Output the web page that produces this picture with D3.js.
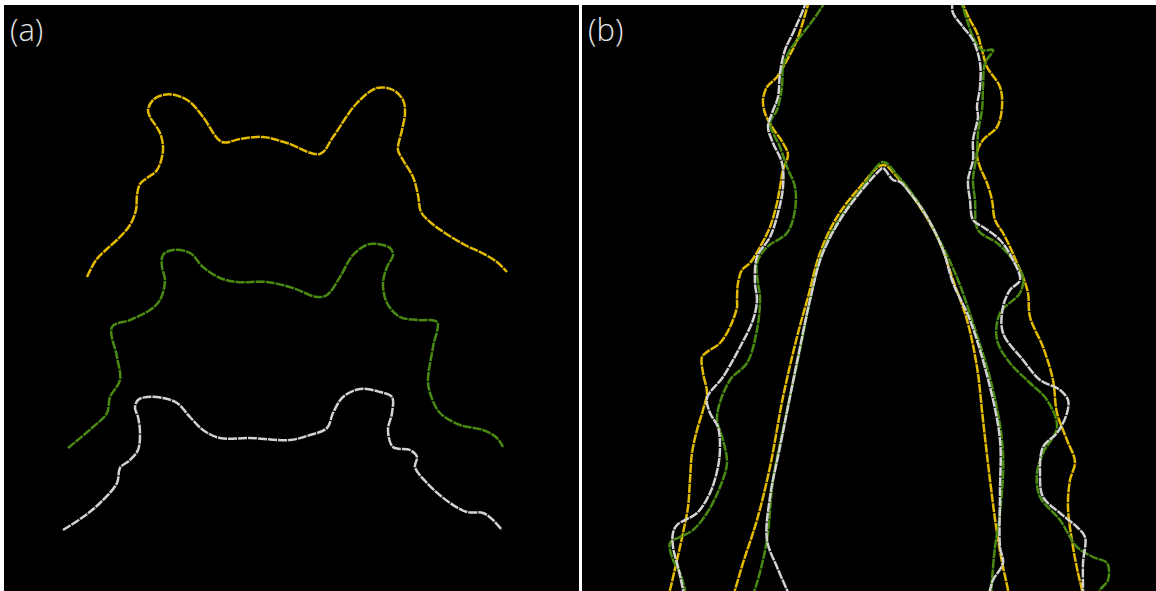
<!DOCTYPE html>
<html>
<head>
<meta charset="utf-8">
<script src="https://cdn.jsdelivr.net/npm/d3@7"></script>
<style>
  html, body { margin: 0; padding: 0; background: #fff; }
  svg { display: block; }
</style>
</head>
<body>
<div id="chart"></div>
<script>
// panel labels
var panelLabels = ["(a)", "(b)"];

// contour traces, panel-local units (x across, y down)
var aYellow = [[83,272],[92,255],[104,243],[115,233],[126,220],[132,205],[133,190],[136,179],[143,173],[153,165],[159,145],[156,128],[146,112],[144,105],[149,95],[159,90],[171,90],[186,97],[199,112],[218,137],[236,134],[259,132],[283,138],[316,149],[329,132],[353,98],[373,83],[389,85],[399,95],[401,108],[398,125],[394,145],[399,155],[409,172],[414,190],[417,207],[426,217],[441,228],[461,240],[478,248],[493,257],[503,267]];
var aGreen = [[64,443],[89,422],[103,408],[106,392],[116,375],[113,352],[108,322],[126,315],[146,305],[156,295],[161,275],[158,262],[159,250],[169,245],[186,248],[199,262],[216,273],[233,277],[263,277],[289,283],[313,292],[323,290],[336,272],[349,250],[366,239],[386,243],[389,250],[383,262],[379,278],[383,298],[396,312],[414,315],[433,317],[429,342],[424,375],[426,388],[436,408],[456,420],[479,425],[493,433],[499,442]];
var aWhite = [[59,525],[79,512],[96,498],[113,478],[116,463],[126,455],[134,445],[136,428],[134,412],[131,403],[134,395],[143,392],[159,393],[173,398],[186,412],[199,425],[216,433],[246,433],[286,435],[306,430],[323,423],[329,408],[339,392],[356,384],[376,387],[388,392],[388,408],[384,425],[389,442],[406,445],[413,452],[411,462],[423,478],[446,498],[463,507],[479,508],[489,515],[498,525]];

var bYellowLeft = [[228,-5],[226,0],[215,35],[205,55],[195,72],[185,82],[181,95],[183,108],[190,122],[201,138],[206,150],[201,165],[198,182],[195,198],[188,222],[178,242],[168,258],[160,265],[156,278],[155,295],[155,302],[148,322],[138,338],[125,347],[120,352],[121,368],[125,388],[121,405],[115,425],[110,448],[108,475],[106,502],[101,528],[95,555],[88,585],[86,592]];
var bWhiteLeft = [[224,-5],[223,0],[211,28],[203,45],[198,68],[196,92],[190,108],[186,122],[191,138],[200,158],[201,182],[196,208],[188,232],[175,252],[173,278],[175,295],[171,315],[158,342],[141,372],[125,393],[128,408],[136,422],[138,442],[136,462],[128,488],[115,508],[95,520],[91,528],[91,542],[96,562],[101,585],[102,592]];
var bGreenLeft = [[243,-5],[241,0],[231,15],[218,32],[208,45],[201,62],[200,82],[195,105],[188,118],[198,142],[205,162],[213,182],[213,205],[205,228],[185,242],[175,258],[176,278],[178,292],[175,325],[165,358],[148,375],[135,412],[141,435],[145,458],[138,482],[125,508],[111,525],[98,532],[88,538],[91,555],[98,568],[103,585],[104,592]];

var bYellowRight = [[379,-5],[381,0],[388,15],[395,28],[400,45],[405,62],[418,82],[420,102],[415,122],[401,135],[395,148],[398,162],[405,178],[410,195],[413,215],[421,228],[428,242],[435,258],[441,272],[446,288],[448,312],[461,342],[471,375],[475,408],[485,435],[493,457],[488,475],[486,502],[491,542],[496,568],[500,585],[501,592]];
var bWhiteRight = [[369,-5],[370,0],[371,8],[381,22],[391,35],[398,58],[398,82],[395,102],[396,112],[391,135],[391,155],[386,175],[388,195],[391,215],[401,222],[418,235],[431,255],[438,275],[428,285],[421,302],[421,328],[441,355],[458,375],[478,385],[486,395],[485,408],[475,428],[461,442],[458,468],[461,492],[478,508],[495,522],[503,532],[501,558],[501,585],[501,592]];
var bGreenRight = [[378,-5],[380,0],[385,15],[391,32],[400,45],[411,45],[403,58],[401,82],[400,105],[396,128],[395,148],[391,175],[393,195],[396,225],[415,238],[431,255],[441,272],[438,288],[418,308],[415,335],[428,358],[448,378],[465,395],[475,422],[461,448],[455,468],[458,492],[478,515],[495,542],[511,552],[525,558],[526,575],[518,585],[516,592]];

var bYellowInner = [[151,592],[153,585],[161,558],[175,515],[188,462],[201,392],[215,332],[226,292],[238,248],[255,212],[278,182],[301,160],[315,172],[338,202],[358,238],[371,275],[385,315],[395,362],[401,415],[408,475],[415,528],[421,562],[426,585],[427,592]];
var bWhiteInner = [[208,592],[205,585],[195,562],[185,535],[188,492],[198,442],[218,342],[228,295],[240,250],[258,215],[280,185],[298,165],[301,163],[311,175],[318,177],[328,188],[345,212],[361,245],[371,278],[388,315],[408,382],[418,435],[418,488],[418,542],[421,558],[411,575],[408,585],[406,592]];
var bGreenInner = [[170,592],[175,578],[185,535],[191,475],[203,415],[218,345],[228,295],[240,248],[258,213],[280,183],[301,157],[315,170],[338,200],[360,240],[376,275],[391,318],[411,385],[421,448],[418,508],[413,542],[410,575],[409,592]];

var colors = { yellow: "#e3bb00", green: "#4a8a12", white: "#d2d2d2" };

var W = 1156, H = 591;
var svg = d3.select("#chart").append("svg")
  .attr("width", W).attr("height", H);

svg.append("rect").attr("width", W).attr("height", H).attr("fill", "#fff");

var panels = [
  { id: "pa", x0: 4, x1: 579, label: panelLabels[0],
    traces: [[aYellow, colors.yellow], [aGreen, colors.green], [aWhite, colors.white]] },
  { id: "pb", x0: 582, x1: 1156, label: panelLabels[1],
    traces: [[bYellowLeft, colors.yellow], [bGreenLeft, colors.green], [bWhiteLeft, colors.white],
             [bYellowRight, colors.yellow], [bGreenRight, colors.green], [bWhiteRight, colors.white],
             [bYellowInner, colors.yellow], [bGreenInner, colors.green], [bWhiteInner, colors.white]] }
];

var defs = svg.append("defs");

panels.forEach(function(p) {
  var top = 5, bottom = H;
  var x = d3.scaleLinear().domain([0, p.x1 - p.x0]).range([p.x0, p.x1]);
  var y = d3.scaleLinear().domain([0, bottom - top]).range([top, bottom]);

  defs.append("clipPath").attr("id", "clip-" + p.id)
    .append("rect").attr("x", p.x0).attr("y", top)
    .attr("width", p.x1 - p.x0).attr("height", bottom - top);

  var g = svg.append("g");
  g.append("rect")
    .attr("x", p.x0).attr("y", top)
    .attr("width", p.x1 - p.x0).attr("height", bottom - top)
    .attr("fill", "#000");

  var line = d3.line()
    .x(function(d) { return x(d[0]); })
    .y(function(d) { return y(d[1]); })
    .curve(d3.curveCatmullRom.alpha(0.5));

  var lines = g.append("g").attr("clip-path", "url(#clip-" + p.id + ")");
  lines.selectAll("path.trace")
    .data(p.traces)
    .enter().append("path")
    .attr("class", "trace")
    .attr("d", function(d) { return line(d[0]); })
    .attr("fill", "none")
    .attr("stroke", function(d) { return d[1]; })
    .attr("stroke-width", 2.5)
    .attr("stroke-linejoin", "round")
    .attr("stroke-dasharray", "9,1");

  g.append("text")
    .attr("x", p.x0 + 6)
    .attr("y", top + 36)
    .attr("fill", "#e6e6e6")
    .style("font-family", "'Helvetica Neue', 'Open Sans', Lato, sans-serif")
    .style("font-weight", 300)
    .style("font-size", "31px")
    .text(p.label);
});
</script>
</body>
</html>
